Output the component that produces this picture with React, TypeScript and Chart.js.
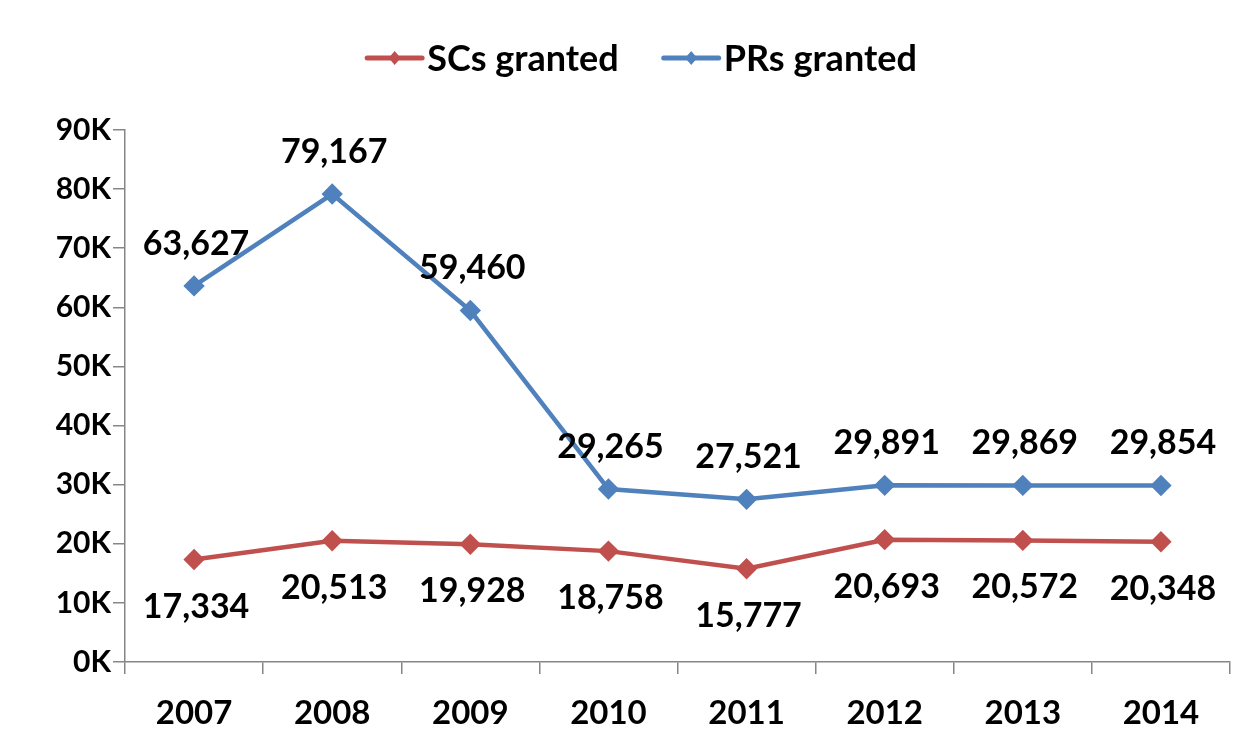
import React, { useEffect, useRef } from "react";
import { Chart, registerables } from "chart.js";

Chart.register(...registerables);

const years = ["2007", "2008", "2009", "2010", "2011", "2012", "2013", "2014"];
const scsGranted = [17334, 20513, 19928, 18758, 15777, 20693, 20572, 20348];
const prsGranted = [63627, 79167, 59460, 29265, 27521, 29891, 29869, 29854];
const yTicks = [0, 10000, 20000, 30000, 40000, 50000, 60000, 70000, 80000, 90000];

const RED = "#C0504D";
const BLUE = "#4F81BD";
const AXIS = "#868686";
const FONT = 'Lato, "Open Sans", sans-serif';

const fmt = (v: number) => v.toLocaleString("en-US");

const labelPlugin = {
  id: "dataLabels",
  afterDatasetsDraw(chart: any) {
    const ctx = chart.ctx;
    ctx.save();
    ctx.font = `bold 34px ${FONT}`;
    ctx.fillStyle = "#000";
    ctx.textAlign = "center";
    ctx.textBaseline = "middle";
    chart.data.datasets.forEach((ds: any, di: number) => {
      const meta = chart.getDatasetMeta(di);
      const dy = ds.label === "PRs granted" ? -42 : 47;
      meta.data.forEach((pt: any, i: number) => {
        ctx.fillText(fmt(ds.data[i]), pt.x + 2, pt.y + dy);
      });
    });
    ctx.restore();
  },
};

const legendPlugin = {
  id: "customLegend",
  afterDraw(chart: any) {
    const ctx = chart.ctx;
    ctx.save();
    ctx.font = `bold 36px ${FONT}`;
    ctx.textBaseline = "middle";
    const y = 58;
    const lineLen = 55;
    const gap = 5;
    const itemGap = 45;
    const items = chart.data.datasets.map((ds: any) => ({
      label: ds.label,
      color: ds.borderColor,
      w: ctx.measureText(ds.label).width,
    }));
    const total =
      items.reduce((s: number, it: any) => s + lineLen + gap + it.w, 0) +
      itemGap * (items.length - 1);
    let x = 642 - total / 2;
    items.forEach((it: any) => {
      ctx.strokeStyle = it.color;
      ctx.lineWidth = 5;
      ctx.lineCap = "round";
      ctx.beginPath();
      ctx.moveTo(x, y);
      ctx.lineTo(x + lineLen, y);
      ctx.stroke();
      const cx = x + lineLen / 2;
      ctx.fillStyle = it.color;
      ctx.beginPath();
      ctx.moveTo(cx, y - 7);
      ctx.lineTo(cx + 6, y);
      ctx.lineTo(cx, y + 7);
      ctx.lineTo(cx - 6, y);
      ctx.closePath();
      ctx.fill();
      ctx.fillStyle = "#000";
      ctx.textAlign = "left";
      ctx.fillText(it.label, x + lineLen + gap, y + 1);
      x += lineLen + gap + it.w + itemGap;
    });
    ctx.restore();
  },
};

export default function App() {
  const ref = useRef<HTMLCanvasElement>(null);
  useEffect(() => {
    document.body.style.margin = "0";
    const chart = new Chart(ref.current!, {
      type: "line",
      data: {
        labels: years,
        datasets: [
          {
            label: "SCs granted",
            data: scsGranted,
            borderColor: RED,
            backgroundColor: RED,
            borderWidth: 4.5,
            pointStyle: "rectRot",
            pointRadius: 7.5,
            pointHoverRadius: 7.5,
            tension: 0,
            clip: false as any,
          },
          {
            label: "PRs granted",
            data: prsGranted,
            borderColor: BLUE,
            backgroundColor: BLUE,
            borderWidth: 4.5,
            pointStyle: "rectRot",
            pointRadius: 7.5,
            pointHoverRadius: 7.5,
            tension: 0,
            clip: false as any,
          },
        ],
      },
      options: {
        animation: false,
        responsive: false,
        maintainAspectRatio: false,
        events: [],
        layout: { padding: { top: 130, right: 18, left: 0, bottom: 0 } },
        plugins: {
          legend: { display: false },
          tooltip: { enabled: false },
        },
        scales: {
          x: {
            type: "category",
            offset: true,
            grid: {
              offset: true,
              drawOnChartArea: false,
              drawTicks: true,
              tickLength: 12,
              color: AXIS,
              lineWidth: 1.5,
            },
            border: { color: AXIS, width: 1.5 },
            ticks: {
              color: "#000",
              font: { family: FONT, size: 33, weight: "bold" },
              padding: 20,
              maxRotation: 0,
            },
            afterFit(scale: any) {
              scale.height = 87;
            },
          },
          y: {
            min: 0,
            max: 90000,
            afterBuildTicks(scale: any) {
              scale.ticks = yTicks.map((v) => ({ value: v }));
            },
            grid: {
              drawOnChartArea: false,
              drawTicks: true,
              tickLength: 12,
              color: AXIS,
              lineWidth: 1.5,
            },
            border: { color: AXIS, width: 1.5 },
            ticks: {
              color: "#000",
              font: { family: FONT, size: 30, weight: "bold" },
              padding: 2,
              callback: (v: any) => `${Number(v) / 1000}K`,
            },
            afterFit(scale: any) {
              scale.width = 125;
            },
          },
        },
      },
      plugins: [labelPlugin, legendPlugin],
    });
    return () => chart.destroy();
  }, []);
  return (
    <div style={{ width: 1248, height: 749, background: "#fff" }}>
      <canvas ref={ref} width={1248} height={749} />
    </div>
  );
}
